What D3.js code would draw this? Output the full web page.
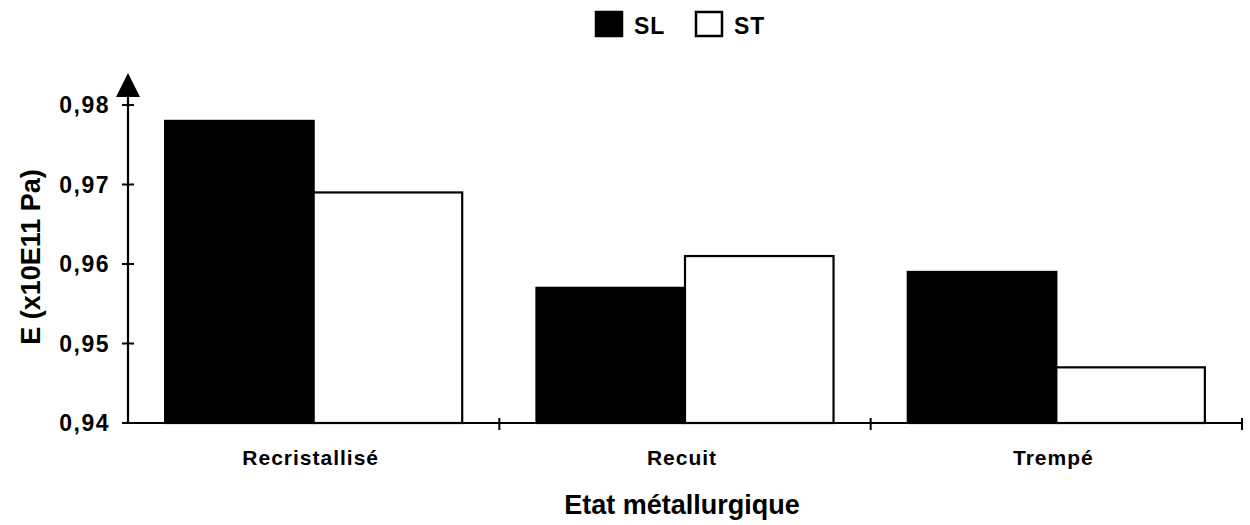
<!DOCTYPE html>
<html>
<head>
<meta charset="utf-8">
<script src="https://cdn.jsdelivr.net/npm/d3@7"></script>
<style>
  html, body { margin: 0; padding: 0; background: #fff; }
  svg { display: block; font-family: Arial, "Liberation Sans", sans-serif; }
</style>
</head>
<body>
<svg id="chart" width="1250" height="525"></svg>
<script>
const categories = ["Recristallisé", "Recuit", "Trempé"];
const seriesNames = ["SL", "ST"];
const slValues = [0.978, 0.957, 0.959];
const stValues = [0.969, 0.961, 0.947];
const yTicks = [0.94, 0.95, 0.96, 0.97, 0.98];
const yTickLabels = ["0,94", "0,95", "0,96", "0,97", "0,98"];
const yTitle = "E (x10E11 Pa)";
const xTitle = "Etat métallurgique";

const svg = d3.select("#chart");
const x0 = 128, x1 = 1242, yBottom = 423, yTop = 105;

const x = d3.scaleBand().domain(categories).range([x0, x1]).paddingInner(0.2).paddingOuter(0.1);
const xs = d3.scaleBand().domain(seriesNames).range([0, x.bandwidth()]);
const y = d3.scaleLinear().domain([0.94, 0.98]).range([yBottom, yTop]);

const fills = { SL: "#000", ST: "#fff" };
const data = [];
categories.forEach((c, i) => {
  data.push({ cat: c, s: "SL", v: slValues[i] });
  data.push({ cat: c, s: "ST", v: stValues[i] });
});

// bars
svg.append("g").selectAll("rect").data(data).join("rect")
  .attr("x", d => x(d.cat) + xs(d.s))
  .attr("y", d => y(d.v))
  .attr("width", xs.bandwidth())
  .attr("height", d => y(0.94) - y(d.v))
  .attr("fill", d => fills[d.s])
  .attr("stroke", "#000")
  .attr("stroke-width", 2.2);

// y axis line + arrow
svg.append("line").attr("x1", x0).attr("x2", x0).attr("y1", yBottom + 1).attr("y2", 96)
  .attr("stroke", "#000").attr("stroke-width", 2.2);
svg.append("path")
  .attr("d", `M${x0},73 L${x0 + 12},97 L${x0 - 12},97 Z`)
  .attr("fill", "#000");

// y ticks
const yg = svg.append("g");
yTicks.forEach((t, i) => {
  yg.append("line").attr("x1", x0 - 6).attr("x2", x0 + 6).attr("y1", y(t)).attr("y2", y(t))
    .attr("stroke", "#000").attr("stroke-width", 2);
  yg.append("text").attr("x", 110).attr("y", y(t)).attr("dy", "0.36em")
    .attr("text-anchor", "end").attr("font-size", 23).attr("font-weight", "bold")
    .attr("letter-spacing", "1.5px")
    .text(yTickLabels[i]);
});

// x axis
svg.append("line").attr("x1", x0).attr("x2", x1).attr("y1", yBottom).attr("y2", yBottom)
  .attr("stroke", "#000").attr("stroke-width", 2.2);
categories.forEach(c => {
  const tx = x(c) + x.bandwidth() + x.step() * x.paddingOuter();
  svg.append("line").attr("x1", tx).attr("x2", tx).attr("y1", yBottom - 5).attr("y2", yBottom + 7)
    .attr("stroke", "#000").attr("stroke-width", 2);
});

// category labels
svg.append("g").selectAll("text").data(categories).join("text")
  .attr("x", d => x(d) + x.bandwidth() / 2 - 3)
  .attr("y", 465)
  .attr("text-anchor", "middle")
  .attr("font-size", 21).attr("font-weight", "bold").attr("letter-spacing", "1px")
  .text(d => d);

// axis titles
svg.append("text").attr("x", 682).attr("y", 514).attr("text-anchor", "middle")
  .attr("font-size", 27).attr("font-weight", "bold").text(xTitle);
svg.append("text").attr("transform", "translate(40,257) rotate(-90)")
  .attr("text-anchor", "middle").attr("font-size", 27).attr("font-weight", "bold")
  .text(yTitle);

// legend
const legendX = [595, 695];
seriesNames.forEach((s, i) => {
  svg.append("rect").attr("x", legendX[i] + 1).attr("y", 12).attr("width", 26).attr("height", 24)
    .attr("fill", fills[s]).attr("stroke", "#000").attr("stroke-width", 2.5);
  svg.append("text").attr("x", legendX[i] + 39).attr("y", 34)
    .attr("font-size", 23).attr("font-weight", "bold").attr("letter-spacing", "1px").text(s);
});
</script>
</body>
</html>
